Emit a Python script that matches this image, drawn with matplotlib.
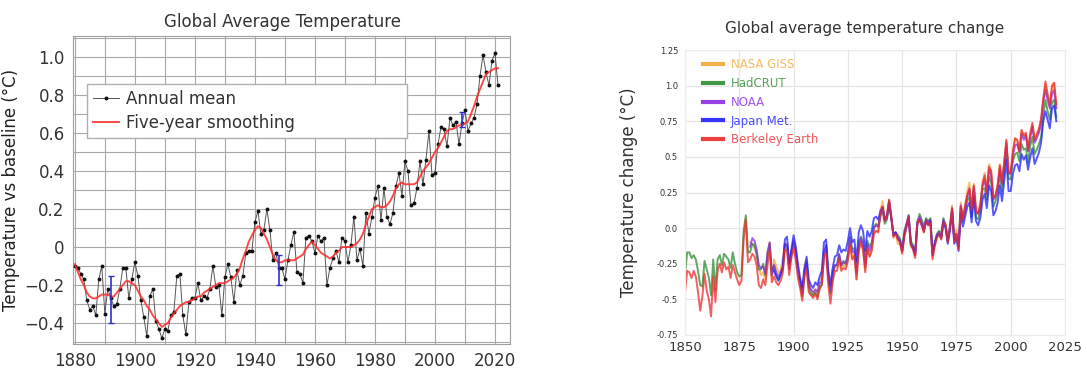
import numpy as np
import matplotlib
matplotlib.use("Agg")
import matplotlib.pyplot as plt
from matplotlib.ticker import MultipleLocator, FuncFormatter, FixedLocator, FixedFormatter

# ---------------- data: left panel (NASA GISS) ----------------
giss_years = list(range(1880, 2022))
giss_annual = [
    -0.10, -0.11, -0.14, -0.17, -0.28, -0.33, -0.31, -0.36, -0.17, -0.10,
    -0.35, -0.22, -0.27, -0.31, -0.30, -0.22, -0.11, -0.11, -0.27, -0.17,
    -0.08, -0.15, -0.28, -0.37, -0.47, -0.26, -0.22, -0.39, -0.43, -0.48,
    -0.43, -0.44, -0.36, -0.34, -0.15, -0.14, -0.36, -0.46, -0.29, -0.27,
    -0.27, -0.19, -0.28, -0.26, -0.27, -0.22, -0.10, -0.21, -0.20, -0.36,
    -0.16, -0.09, -0.16, -0.29, -0.12, -0.20, -0.15, -0.03, -0.02, -0.02,
    0.13, 0.19, 0.07, 0.09, 0.20, 0.09, -0.07, -0.03, -0.11, -0.11,
    -0.17, -0.07, 0.01, 0.08, -0.13, -0.14, -0.19, 0.05, 0.06, 0.03,
    -0.03, 0.06, 0.03, 0.05, -0.20, -0.11, -0.06, -0.02, -0.08, 0.05,
    0.03, -0.08, 0.01, 0.16, -0.07, -0.01, -0.10, 0.18, 0.07, 0.16,
    0.26, 0.32, 0.14, 0.31, 0.16, 0.12, 0.18, 0.32, 0.39, 0.27,
    0.45, 0.40, 0.22, 0.23, 0.31, 0.45, 0.33, 0.46, 0.61, 0.38,
    0.39, 0.54, 0.63, 0.62, 0.53, 0.68, 0.64, 0.66, 0.54, 0.65,
    0.72, 0.61, 0.65, 0.68, 0.75, 0.90, 1.01, 0.92, 0.85, 0.98,
    1.02, 0.85,
]
giss_smooth = [
    -0.09, -0.13, -0.17, -0.20, -0.24, -0.26, -0.27, -0.27, -0.26, -0.25,
    -0.25, -0.25, -0.26, -0.26, -0.24, -0.22, -0.20, -0.18, -0.18, -0.19,
    -0.20, -0.23, -0.26, -0.28, -0.31, -0.33, -0.36, -0.38, -0.40, -0.42,
    -0.41, -0.40, -0.37, -0.35, -0.33, -0.31, -0.30, -0.29, -0.29, -0.28,
    -0.27, -0.26, -0.26, -0.24, -0.23, -0.22, -0.21, -0.20, -0.19, -0.19,
    -0.19, -0.18, -0.17, -0.16, -0.14, -0.11, -0.06, -0.02, 0.03, 0.06,
    0.09, 0.11, 0.10, 0.07, 0.04, 0.00, -0.04, -0.07, -0.08, -0.08,
    -0.07, -0.07, -0.07, -0.07, -0.06, -0.05, -0.04, -0.01, 0.01, 0.03,
    0.01, -0.01, -0.03, -0.04, -0.05, -0.06, -0.05, -0.03, -0.02, 0.00,
    0.00, 0.00, 0.00, 0.01, 0.02, 0.04, 0.07, 0.12, 0.16, 0.20,
    0.21, 0.22, 0.21, 0.21, 0.22, 0.24, 0.27, 0.31, 0.33, 0.34,
    0.33, 0.33, 0.33, 0.33, 0.34, 0.37, 0.40, 0.42, 0.44, 0.47,
    0.50, 0.52, 0.55, 0.58, 0.61, 0.62, 0.62, 0.63, 0.64, 0.64,
    0.65, 0.66, 0.70, 0.74, 0.79, 0.83, 0.87, 0.91, 0.92, 0.93,
    0.94, 0.94,
]
err_years = [1892, 1948, 2009]
err_centers = [-0.275, -0.12, 0.67]
err_half = [0.125, 0.08, 0.04]

# ---------------- data: right panel ----------------
hadcrut_years = list(range(1850, 2022))
hadcrut = [
    -0.33, -0.17, -0.17, -0.21, -0.19, -0.22, -0.30, -0.40, -0.41, -0.23,
    -0.29, -0.35, -0.47, -0.22, -0.44, -0.22, -0.19, -0.26, -0.18, -0.20,
    -0.22, -0.28, -0.17, -0.25, -0.31, -0.34, -0.33, -0.02, 0.09, -0.17,
    -0.17, -0.11, -0.12, -0.19, -0.29, -0.29, -0.25, -0.33, -0.19, -0.11,
    -0.31, -0.26, -0.33, -0.36, -0.33, -0.29, -0.12, -0.12, -0.28, -0.18,
    -0.10, -0.18, -0.31, -0.39, -0.48, -0.33, -0.26, -0.42, -0.46, -0.47,
    -0.45, -0.48, -0.41, -0.40, -0.19, -0.12, -0.36, -0.46, -0.34, -0.26,
    -0.26, -0.19, -0.26, -0.23, -0.25, -0.18, -0.06, -0.15, -0.14, -0.30,
    -0.11, -0.06, -0.10, -0.24, -0.09, -0.13, -0.10, 0.01, 0.03, 0.01,
    0.08, 0.12, 0.03, 0.06, 0.17, 0.07, -0.04, -0.03, -0.05, -0.07,
    -0.15, -0.02, 0.03, 0.09, -0.09, -0.12, -0.17, 0.04, 0.10, 0.06,
    0.01, 0.07, 0.05, 0.07, -0.17, -0.10, -0.04, -0.02, -0.04, 0.07,
    0.01, -0.09, 0.00, 0.13, -0.08, -0.05, -0.13, 0.15, 0.05, 0.13,
    0.19, 0.22, 0.08, 0.27, 0.08, 0.06, 0.12, 0.27, 0.28, 0.20,
    0.36, 0.32, 0.15, 0.19, 0.25, 0.38, 0.26, 0.40, 0.57, 0.35,
    0.34, 0.47, 0.52, 0.53, 0.47, 0.59, 0.55, 0.56, 0.46, 0.58,
    0.64, 0.52, 0.55, 0.59, 0.64, 0.79, 0.90, 0.82, 0.76, 0.88,
    0.90, 0.78,
]
berkeley_years = list(range(1850, 2022))
berkeley = [
    -0.45, -0.30, -0.31, -0.35, -0.30, -0.34, -0.45, -0.58, -0.48, -0.32,
    -0.44, -0.50, -0.62, -0.34, -0.52, -0.30, -0.25, -0.31, -0.24, -0.29,
    -0.27, -0.35, -0.26, -0.31, -0.36, -0.40, -0.37, -0.08, 0.06, -0.24,
    -0.22, -0.18, -0.20, -0.26, -0.40, -0.42, -0.36, -0.40, -0.26, -0.15,
    -0.38, -0.34, -0.38, -0.40, -0.37, -0.32, -0.15, -0.16, -0.33, -0.21,
    -0.14, -0.22, -0.35, -0.42, -0.51, -0.34, -0.29, -0.45, -0.47, -0.49,
    -0.46, -0.50, -0.43, -0.40, -0.20, -0.18, -0.40, -0.53, -0.38, -0.30,
    -0.30, -0.22, -0.30, -0.28, -0.29, -0.23, -0.12, -0.22, -0.19, -0.36,
    -0.16, -0.10, -0.15, -0.31, -0.14, -0.20, -0.16, -0.04, -0.02, -0.03,
    0.10, 0.15, 0.05, 0.08, 0.20, 0.08, -0.06, -0.04, -0.08, -0.10,
    -0.18, -0.05, 0.02, 0.08, -0.12, -0.15, -0.21, 0.03, 0.06, 0.02,
    -0.03, 0.05, 0.02, 0.04, -0.22, -0.13, -0.07, -0.04, -0.08, 0.04,
    0.02, -0.10, 0.00, 0.14, -0.10, -0.04, -0.15, 0.15, 0.06, 0.16,
    0.23, 0.28, 0.13, 0.30, 0.12, 0.10, 0.16, 0.31, 0.37, 0.25,
    0.43, 0.40, 0.21, 0.23, 0.30, 0.44, 0.32, 0.46, 0.62, 0.39,
    0.39, 0.54, 0.63, 0.62, 0.54, 0.69, 0.65, 0.67, 0.55, 0.67,
    0.74, 0.62, 0.66, 0.70, 0.77, 0.91, 1.03, 0.94, 0.87, 1.00,
    1.02, 0.87,
]
noaa_years = list(range(1880, 2022))
noaa = [
    -0.13, -0.07, -0.09, -0.15, -0.26, -0.28, -0.27, -0.32, -0.17, -0.10,
    -0.33, -0.26, -0.31, -0.34, -0.31, -0.27, -0.11, -0.12, -0.29, -0.17,
    -0.09, -0.17, -0.30, -0.37, -0.46, -0.30, -0.24, -0.40, -0.43, -0.45,
    -0.43, -0.45, -0.39, -0.37, -0.18, -0.12, -0.35, -0.44, -0.32, -0.26,
    -0.26, -0.18, -0.26, -0.24, -0.25, -0.19, -0.07, -0.17, -0.16, -0.32,
    -0.13, -0.07, -0.12, -0.27, -0.11, -0.16, -0.12, 0.00, 0.02, 0.01,
    0.10, 0.14, 0.05, 0.07, 0.18, 0.07, -0.05, -0.03, -0.07, -0.09,
    -0.16, -0.04, 0.03, 0.09, -0.11, -0.13, -0.18, 0.04, 0.08, 0.04,
    -0.01, 0.06, 0.04, 0.06, -0.19, -0.11, -0.05, -0.03, -0.06, 0.06,
    0.02, -0.09, 0.01, 0.14, -0.08, -0.04, -0.12, 0.16, 0.06, 0.14,
    0.22, 0.27, 0.11, 0.29, 0.12, 0.10, 0.15, 0.29, 0.34, 0.24,
    0.41, 0.37, 0.20, 0.22, 0.29, 0.42, 0.31, 0.45, 0.60, 0.39,
    0.38, 0.51, 0.58, 0.59, 0.53, 0.66, 0.62, 0.65, 0.54, 0.64,
    0.71, 0.60, 0.63, 0.67, 0.74, 0.89, 0.97, 0.90, 0.84, 0.94,
    0.97, 0.84,
]
japan_years = list(range(1891, 2022))
japan = [
    -0.30, -0.34, -0.37, -0.33, -0.28, -0.08, -0.06, -0.25, -0.15,
    -0.05, -0.13, -0.25, -0.35, -0.42, -0.29, -0.20, -0.36, -0.40, -0.42,
    -0.38, -0.40, -0.34, -0.30, -0.10, -0.08, -0.30, -0.40, -0.28, -0.20,
    -0.19, -0.12, -0.17, -0.15, -0.16, -0.09, 0.00, -0.10, -0.08, -0.23,
    -0.03, 0.02, -0.02, -0.16, -0.02, -0.06, -0.02, 0.07, 0.08, 0.06,
    0.12, 0.15, 0.06, 0.09, 0.19, 0.07, -0.05, -0.03, -0.07, -0.09,
    -0.16, -0.05, 0.01, 0.07, -0.11, -0.14, -0.19, 0.03, 0.06, 0.02,
    -0.02, 0.05, 0.02, 0.05, -0.19, -0.11, -0.06, -0.04, -0.07, 0.04,
    0.00, -0.11, -0.02, 0.11, -0.11, -0.07, -0.16, 0.10, 0.01, 0.08,
    0.15, 0.18, 0.04, 0.22, 0.05, 0.02, 0.07, 0.20, 0.24, 0.14,
    0.30, 0.26, 0.09, 0.12, 0.18, 0.30, 0.19, 0.33, 0.48, 0.26,
    0.26, 0.38, 0.44, 0.45, 0.40, 0.52, 0.48, 0.51, 0.41, 0.50,
    0.56, 0.45, 0.49, 0.53, 0.60, 0.75, 0.82, 0.76, 0.70, 0.84,
    0.86, 0.75,
]
series_names = ["NASA GISS", "HadCRUT", "NOAA", "Japan Met.", "Berkeley Earth"]
series_colors = ["#f2a93b", "#2e8b2e", "#8a2be2", "#1f1fff", "#ee2a2a"]

right_yticks = [-0.75, -0.5, -0.25, 0.0, 0.25, 0.5, 0.75, 1.0, 1.25]
right_yticklabels = ["-0.75", "-0.5", "-0.25", "0.0", "0.25", "0.5", "0.75", "1.0", "1.25"]
right_xticks = [1850, 1875, 1900, 1925, 1950, 1975, 2000, 2025]

# ---------------- figure ----------------
plt.rcParams["font.family"] = ["DejaVu Sans"]
W, H = 1087, 372
fig = plt.figure(figsize=(W / 100, H / 100), dpi=100)

def frac_box(x0, x1, ytop, ybot):
    return [x0 / W, 1 - ybot / H, (x1 - x0) / W, (ybot - ytop) / H]

# ---- left panel ----
ax1 = fig.add_axes(frac_box(73, 510, 36, 344))
ax1.plot(giss_years, giss_annual, color="#555555", lw=0.7, marker="o",
         markersize=1.8, markerfacecolor="#111111", markeredgecolor="#111111",
         label="Annual mean", zorder=3)
ax1.plot(giss_years, giss_smooth, color="#ff2a2a", lw=1.4, alpha=0.85,
         label="Five-year smoothing", zorder=4)
ax1.errorbar(err_years, err_centers, yerr=err_half, fmt="none",
             ecolor="#3030d0", elinewidth=1.2, capsize=2, capthick=1.0, zorder=5)
ax1.set_xlim(1879.4, 2025)
ax1.set_ylim(-0.51, 1.11)
ax1.xaxis.set_major_locator(MultipleLocator(20))
ax1.xaxis.set_minor_locator(MultipleLocator(10))
ax1.yaxis.set_major_locator(MultipleLocator(0.2))
ax1.yaxis.set_minor_locator(MultipleLocator(0.1))

def lfmt(v, pos):
    if abs(v) < 1e-9:
        return "0"
    return f"{v:.1f}".replace("-", "\u2212")

ax1.yaxis.set_major_formatter(FuncFormatter(lfmt))
ax1.grid(True, which="both", color="#a8a8a8", lw=0.8)
ax1.set_axisbelow(True)
ax1.tick_params(which="both", length=0, labelsize=12, labelcolor="#333333", pad=6)
for s in ax1.spines.values():
    s.set_color("#a0a0a0")
    s.set_linewidth(0.8)
ax1.set_ylabel("Temperature vs baseline (\u00b0C)", fontsize=12, color="#222222")
ax1.yaxis.set_label_coords(-0.122, 0.5)
fig.text(283 / W, 1 - 22 / H, "Global Average Temperature", ha="center", va="center",
         fontsize=12, color="#333333")
leg1 = ax1.legend(loc="upper left", bbox_to_anchor=(0.032, 0.662, 0.732, 0.182),
                  mode="expand", borderaxespad=0, fontsize=12, frameon=True,
                  fancybox=False, edgecolor="#b0b0b0", framealpha=1,
                  handlelength=1.6, handletextpad=0.4, borderpad=0.35,
                  labelspacing=0.35)
for t in leg1.get_texts():
    t.set_color("#333333")

# ---- right panel ----
ax2 = fig.add_axes(frac_box(685, 1065, 50, 335))
all_years = [giss_years, hadcrut_years, noaa_years, japan_years, berkeley_years]
all_vals = [giss_annual, hadcrut, noaa, japan, berkeley]
for yrs, vals, name, col in zip(all_years, all_vals, series_names, series_colors):
    ax2.plot(yrs, vals, color=col, lw=1.4, alpha=0.75, label=name)
ax2.set_xlim(1850, 2025)
ax2.set_ylim(-0.75, 1.25)
ax2.xaxis.set_major_locator(FixedLocator(right_xticks))
ax2.yaxis.set_major_locator(FixedLocator(right_yticks))
ax2.yaxis.set_major_formatter(FixedFormatter(right_yticklabels))
ax2.grid(True, color="#e6e6e6", lw=0.9)
ax2.set_axisbelow(True)
ax2.tick_params(axis="x", length=0, labelsize=9.5, labelcolor="#333333", pad=4)
ax2.tick_params(axis="y", length=0, labelsize=6, labelcolor="#333333", pad=5)
for s in ax2.spines.values():
    s.set_color("#ececec")
    s.set_linewidth(0.8)
ax2.set_ylabel("Temperature change (\u00b0C)", fontsize=12, color="#333333")
ax2.yaxis.set_label_coords(-0.125, 0.5)
fig.text(865 / W, 1 - 28 / H, "Global average temperature change", ha="center",
         va="center", fontsize=11, color="#333333")
leg2 = ax2.legend(loc="upper left", bbox_to_anchor=(0.034, 0.989), borderaxespad=0,
                  fontsize=8.5, frameon=False, handlelength=1.7, handletextpad=0.7,
                  borderpad=0.4, labelspacing=0.5)
for line, text, col in zip(leg2.get_lines(), leg2.get_texts(), series_colors):
    line.set_linewidth(3)
    line.set_alpha(0.9)
    text.set_color(col)
    text.set_alpha(0.8)

fig.savefig("out.png", dpi=100)
